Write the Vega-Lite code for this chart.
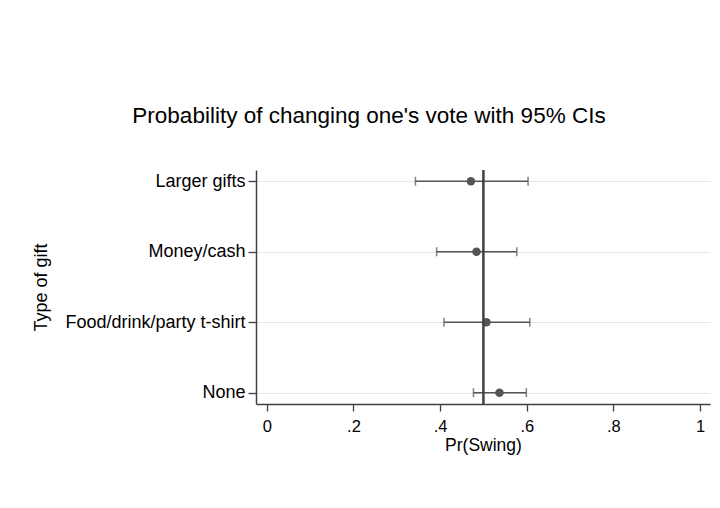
{
  "$schema": "https://vega.github.io/schema/vega-lite/v6.json",
  "width": 454,
  "height": 234,
  "autosize": "none",
  "padding": {"left": 256, "top": 170, "right": 10, "bottom": 104},
  "background": "white",
  "config": {
    "view": {"stroke": null},
    "font": "Liberation Sans",
    "axis": {"labelFont": "Liberation Sans", "titleFont": "Liberation Sans", "labelColor": "#000", "titleColor": "#000", "titleFontWeight": "normal", "domainColor": "#404040", "tickColor": "#404040", "domainWidth": 1.5, "tickWidth": 1.3}
  },
  "title": {
    "text": "Probability of changing one's vote with 95% CIs",
    "font": "Liberation Sans",
    "fontSize": 22.5,
    "fontWeight": "normal",
    "color": "#000",
    "anchor": "middle",
    "baseline": "alphabetic",
    "dx": -114,
    "offset": 24
  },
  "data": {
    "values": [
      {"gift": "Larger gifts", "est": 0.471, "lo": 0.343, "hi": 0.603},
      {"gift": "Money/cash", "est": 0.484, "lo": 0.392, "hi": 0.577},
      {"gift": "Food/drink/party t-shirt", "est": 0.507, "lo": 0.409, "hi": 0.607},
      {"gift": "None", "est": 0.537, "lo": 0.477, "hi": 0.599}
    ]
  },
  "encoding": {
    "y": {
      "field": "gift",
      "type": "nominal",
      "sort": ["Larger gifts", "Money/cash", "Food/drink/party t-shirt", "None"],
      "scale": {"type": "point", "padding": 0.16},
      "axis": {
        "title": "Type of gift",
        "titleFontSize": 18,
        "titlePadding": 14,
        "labelFontSize": 18,
        "labelLimit": 400,
        "labelPadding": 3,
        "tickSize": 8,
        "grid": true,
        "gridColor": "#e6e6e6",
        "gridWidth": 1.2
      }
    }
  },
  "layer": [
    {
      "mark": {"type": "rule", "color": "#555555", "strokeWidth": 1.6},
      "encoding": {
        "x": {
          "field": "lo",
          "type": "quantitative",
          "scale": {"domain": [-0.025, 1.023], "nice": false, "zero": false},
          "axis": {
            "title": "Pr(Swing)",
            "titleFontSize": 17.5,
            "titlePadding": 2,
            "labelFontSize": 16.5,
            "labelPadding": 7,
            "tickSize": 7,
            "grid": false,
            "values": [0, 0.2, 0.4, 0.6, 0.8, 1],
            "labelExpr": "datum.value == 0 ? '0' : datum.value == 1 ? '1' : replace(format(datum.value, '.1f'), '0.', '.')"
          }
        },
        "x2": {"field": "hi"}
      }
    },
    {
      "mark": {"type": "tick", "color": "#555555", "thickness": 1.6, "size": 9},
      "encoding": {"x": {"field": "lo", "type": "quantitative"}}
    },
    {
      "mark": {"type": "tick", "color": "#555555", "thickness": 1.6, "size": 9},
      "encoding": {"x": {"field": "hi", "type": "quantitative"}}
    },
    {
      "mark": {"type": "point", "shape": "circle", "filled": true, "opacity": 1, "color": "#555555", "size": 72},
      "encoding": {"x": {"field": "est", "type": "quantitative"}}
    },
    {
      "mark": {"type": "rule", "color": "#404040", "strokeWidth": 1.6},
      "encoding": {"x": {"datum": 0.5}, "y": null}
    }
  ]
}
